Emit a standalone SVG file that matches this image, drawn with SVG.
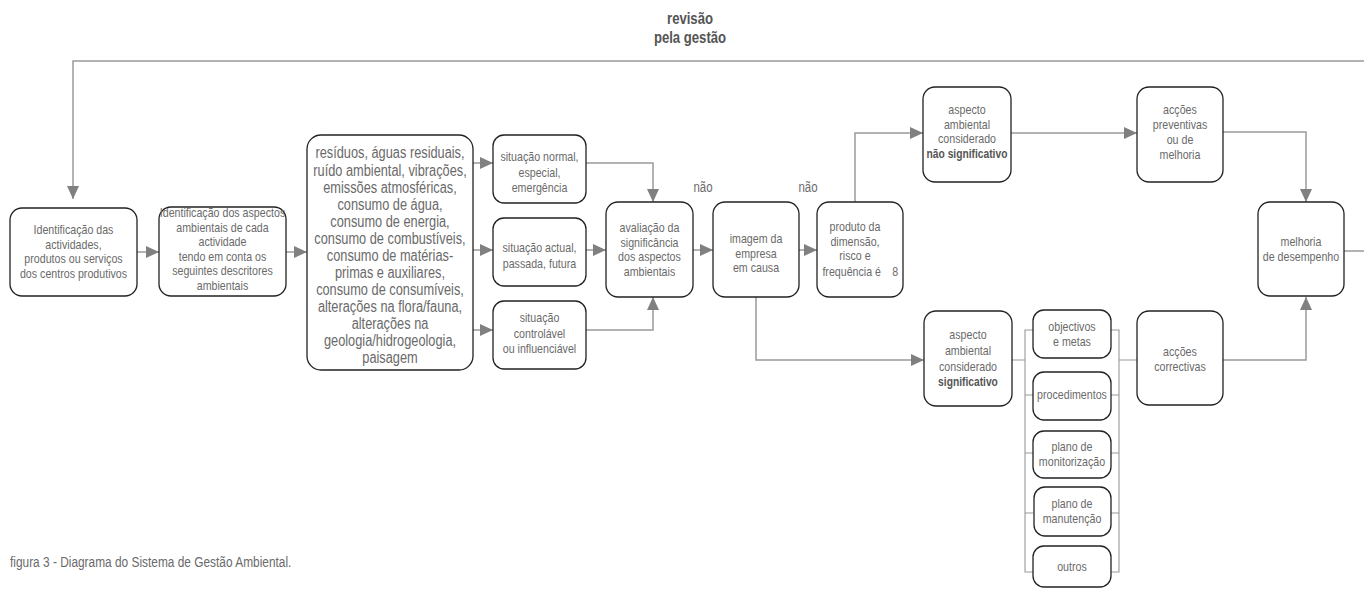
<svg xmlns="http://www.w3.org/2000/svg" width="1364" height="589" viewBox="0 0 1364 589">
<defs>
<marker id="ah" markerUnits="userSpaceOnUse" markerWidth="14" markerHeight="14" viewBox="0 0 14 14" refX="13" refY="7" orient="auto">
<path d="M0,1 L13,7 L0,13 Z" fill="#808080"/>
</marker>
<style>
.box{fill:#fff;stroke:#222;stroke-width:1.3}
.t{font-family:"Liberation Sans",Arial,sans-serif;font-size:13px;fill:#6a6a6a;text-anchor:middle}
.tl{font-size:15.6px}
.b{font-weight:bold;fill:#555;font-size:12.5px}
.c{fill:none;stroke:#9a9a9a;stroke-width:1.5}
.k{fill:none;stroke:#9a9a9a;stroke-width:1.1}
</style>
</defs>
<rect width="1364" height="589" fill="#fff"/>

<g id="title">
<text class="t" transform="matrix(0.82 0 0 1 124.2 0)" style="font-weight:bold;fill:#555;font-size:16px"><tspan x="690" y="24">revisão</tspan><tspan x="690" y="43">pela gestão</tspan></text>
</g>

<g id="connectors">
<path class="c" d="M1364,61 H73 V199" marker-end="url(#ah)"/>
<path class="c" d="M137,252 H159" marker-end="url(#ah)"/>
<path class="c" d="M286,252 H307" marker-end="url(#ah)"/>
<path class="c" d="M473,163 H493" marker-end="url(#ah)"/>
<path class="c" d="M473,250 H493" marker-end="url(#ah)"/>
<path class="c" d="M473,330 H493" marker-end="url(#ah)"/>
<path class="c" d="M586,163 H653 V202" marker-end="url(#ah)"/>
<path class="c" d="M586,250 H606" marker-end="url(#ah)"/>
<path class="c" d="M586,330 H653 V297" marker-end="url(#ah)"/>
<path class="c" d="M693,250 H713" marker-end="url(#ah)"/>
<path class="c" d="M799,250 H817" marker-end="url(#ah)"/>
<path class="c" d="M855,202 V133 H923" marker-end="url(#ah)"/>
<path class="c" d="M1011,133 H1137" marker-end="url(#ah)"/>
<path class="c" d="M1223,132 H1306 V202" marker-end="url(#ah)"/>
<path class="c" d="M1344,251 H1364"/>
<path class="c" d="M756,297 V360 H924" marker-end="url(#ah)"/>
<path class="c" d="M1223,360 H1306 V297" marker-end="url(#ah)"/>
<path class="k" d="M1012,360 H1025 M1033,330 H1025 V572 H1033 M1025,395 H1033 M1025,453 H1033 M1025,513 H1033"/>
<path class="k" d="M1111,330 H1119 V572 H1111 M1111,395 H1119 M1111,453 H1119 M1111,513 H1119 M1119,360 H1137"/>
</g>

<g id="n1">
<rect class="box" x="10" y="208" width="127" height="88" rx="12"/>
<text class="t" transform="matrix(0.82 0 0 1 13.23 0)"><tspan x="73.5" y="234.5">Identificação das</tspan><tspan x="73.5" y="249">actividades,</tspan><tspan x="73.5" y="263.5">produtos ou serviços</tspan><tspan x="73.5" y="278">dos centros produtivos</tspan></text>
</g>

<g id="n2">
<rect class="box" x="159" y="207" width="127" height="89" rx="12"/>
<text class="t" transform="matrix(0.82 0 0 1 40.05 0)"><tspan x="222.5" y="217.5">Identificação dos aspectos</tspan><tspan x="222.5" y="232">ambientais de cada</tspan><tspan x="222.5" y="246.5">actividade</tspan><tspan x="222.5" y="261">tendo em conta os</tspan><tspan x="222.5" y="275.5">seguintes descritores</tspan><tspan x="222.5" y="290">ambientais</tspan></text>
</g>

<g id="n3">
<rect class="box" x="307" y="135" width="166" height="235" rx="14"/>
<text class="t tl" transform="matrix(0.82 0 0 1 70.2 0)"><tspan x="390" y="158.5">resíduos, águas residuais,</tspan><tspan x="390" y="175.6">ruído ambiental, vibrações,</tspan><tspan x="390" y="192.7">emissões atmosféricas,</tspan><tspan x="390" y="209.7">consumo de água,</tspan><tspan x="390" y="226.8">consumo de energia,</tspan><tspan x="390" y="243.9">consumo de combustíveis,</tspan><tspan x="390" y="261">consumo de matérias-</tspan><tspan x="390" y="278">primas e auxiliares,</tspan><tspan x="390" y="295.1">consumo de consumíveis,</tspan><tspan x="390" y="312.2">alterações na flora/fauna,</tspan><tspan x="390" y="329.3">alterações na</tspan><tspan x="390" y="346.4">geologia/hidrogeologia,</tspan><tspan x="390" y="363.5">paisagem</tspan></text>
</g>

<g id="n4">
<rect class="box" x="493" y="135" width="93" height="68" rx="11"/>
<text class="t" transform="matrix(0.82 0 0 1 97.11 0)"><tspan x="539.5" y="161.5">situação normal,</tspan><tspan x="539.5" y="177">especial,</tspan><tspan x="539.5" y="192.5">emergência</tspan></text>
</g>

<g id="n5">
<rect class="box" x="493" y="218" width="93" height="68" rx="11"/>
<text class="t" transform="matrix(0.82 0 0 1 97.11 0)"><tspan x="539.5" y="252.5">situação actual,</tspan><tspan x="539.5" y="268">passada, futura</tspan></text>
</g>

<g id="n6">
<rect class="box" x="493" y="301" width="93" height="68" rx="11"/>
<text class="t" transform="matrix(0.82 0 0 1 97.11 0)"><tspan x="539.5" y="322.5">situação</tspan><tspan x="539.5" y="338">controlável</tspan><tspan x="539.5" y="353.5">ou influenciável</tspan></text>
</g>

<g id="n7">
<rect class="box" x="606" y="202" width="87" height="95" rx="12"/>
<text class="t" transform="matrix(0.82 0 0 1 116.91 0)"><tspan x="649.5" y="232.5">avaliação da</tspan><tspan x="649.5" y="247">significância</tspan><tspan x="649.5" y="261.5">dos aspectos</tspan><tspan x="649.5" y="276">ambientais</tspan></text>
</g>

<g id="lbl">
<text class="t" transform="matrix(0.82 0 0 1 126.54 0)" x="703" y="192" style="font-size:14px">não</text>
<text class="t" transform="matrix(0.82 0 0 1 145.44 0)" x="808" y="192" style="font-size:14px">não</text>
</g>

<g id="n8">
<rect class="box" x="713" y="202" width="86" height="95" rx="12"/>
<text class="t" transform="matrix(0.82 0 0 1 136.08 0)"><tspan x="756" y="243.5">imagem da</tspan><tspan x="756" y="258">empresa</tspan><tspan x="756" y="272.5">em causa</tspan></text>
</g>

<g id="n9">
<rect class="box" x="817" y="202" width="86" height="95" rx="12"/>
<text class="t" transform="matrix(0.82 0 0 1 153.9 0)"><tspan x="855" y="231.5">produto da</tspan><tspan x="855" y="246">dimensão,</tspan><tspan x="855" y="260.5">risco e</tspan><tspan x="851" y="276">frequência é</tspan><tspan x="904" y="276">8</tspan></text>
</g>

<g id="n10">
<rect class="box" x="923" y="87" width="88" height="95" rx="12"/>
<text class="t" transform="matrix(0.82 0 0 1 174.06 0)"><tspan x="967" y="114.5">aspecto</tspan><tspan x="967" y="129">ambiental</tspan><tspan x="967" y="143.5">considerado</tspan><tspan x="967" y="158.5" class="b">não significativo</tspan></text>
</g>

<g id="n11">
<rect class="box" x="1137" y="87" width="86" height="95" rx="12"/>
<text class="t" transform="matrix(0.82 0 0 1 212.4 0)"><tspan x="1180" y="114.5">acções</tspan><tspan x="1180" y="129.5">preventivas</tspan><tspan x="1180" y="144.5">ou de</tspan><tspan x="1180" y="159.5">melhoria</tspan></text>
</g>

<g id="n12">
<rect class="box" x="1258" y="202" width="86" height="94" rx="12"/>
<text class="t" transform="matrix(0.82 0 0 1 234.18 0)"><tspan x="1301" y="246.5">melhoria</tspan><tspan x="1301" y="261.5">de desempenho</tspan></text>
</g>

<g id="n13">
<rect class="box" x="924" y="311" width="88" height="95" rx="12"/>
<text class="t" transform="matrix(0.82 0 0 1 174.24 0)"><tspan x="968" y="339.5">aspecto</tspan><tspan x="968" y="355.5">ambiental</tspan><tspan x="968" y="371.5">considerado</tspan><tspan x="968" y="386.5" class="b">significativo</tspan></text>
</g>

<g id="n14">
<rect class="box" x="1033" y="310" width="78" height="48" rx="11"/>
<text class="t" transform="matrix(0.82 0 0 1 192.96 0)"><tspan x="1072" y="331.5">objectivos</tspan><tspan x="1072" y="346.5">e metas</tspan></text>
</g>

<g id="n15">
<rect class="box" x="1033" y="372" width="78" height="48" rx="11"/>
<text class="t" transform="matrix(0.82 0 0 1 192.96 0)" x="1072" y="399.5">procedimentos</text>
</g>

<g id="n16">
<rect class="box" x="1033" y="431" width="78" height="47" rx="11"/>
<text class="t" transform="matrix(0.82 0 0 1 192.96 0)"><tspan x="1072" y="451.5">plano de</tspan><tspan x="1072" y="466.5">monitorização</tspan></text>
</g>

<g id="n17">
<rect class="box" x="1034" y="487" width="77" height="49" rx="11"/>
<text class="t" transform="matrix(0.82 0 0 1 192.96 0)"><tspan x="1072" y="508.5">plano de</tspan><tspan x="1072" y="523.5">manutenção</tspan></text>
</g>

<g id="n18">
<rect class="box" x="1033" y="546" width="78" height="41" rx="11"/>
<text class="t" transform="matrix(0.82 0 0 1 192.96 0)" x="1072" y="571.5">outros</text>
</g>

<g id="n19">
<rect class="box" x="1137" y="311" width="86" height="94" rx="12"/>
<text class="t" transform="matrix(0.82 0 0 1 212.4 0)"><tspan x="1180" y="356.5">acções</tspan><tspan x="1180" y="371.5">correctivas</tspan></text>
</g>

<g id="caption">
<text class="t" transform="matrix(0.82 0 0 1 1.8 0)" x="10" y="567" style="text-anchor:start;font-size:14.5px">figura 3 - Diagrama do Sistema de Gestão Ambiental.</text>
</g>
</svg>
